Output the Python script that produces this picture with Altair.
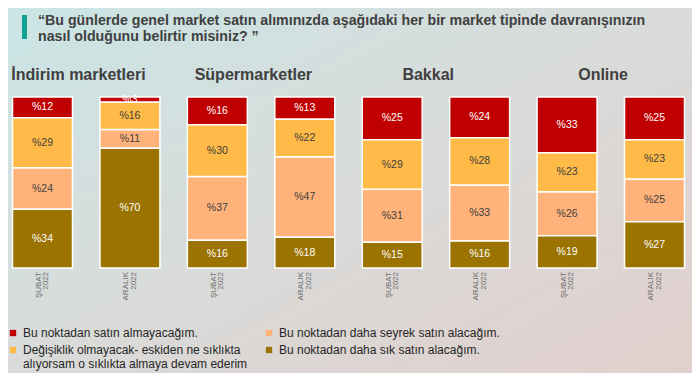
import altair as alt
import pandas as pd

FONT = "Liberation Sans, Arial, sans-serif"

groups = ["İndirim marketleri", "Süpermarketler", "Bakkal", "Online"]
periods = ["ŞUBAT 2022", "ARALIK 2022"]
period_line1 = ["ŞUBAT", "ARALIK"]
period_line2 = ["2022", "2022"]

cat_names = [
    "Bu noktadan satın almayacağım.",
    "Bu noktadan daha seyrek satın alacağım.",
    "Değişiklik olmayacak- eskiden ne sıklıkta~alıyorsam o sıklıkta almaya devam ederim",
    "Bu noktadan daha sık satın alacağım.",
]
cat_colors = ["#C00000", "#FFB27A", "#FFBA47", "#9A7300"]
stack_order = [3, 1, 2, 0]          # bottom (0) -> top (3)
text_colors = ["white", "#404040", "#404040", "white"]

# values per bar: İnd Ş, İnd A, Süp Ş, Süp A, Bak Ş, Bak A, Onl Ş, Onl A
almayacagim = [12, 3, 16, 13, 25, 24, 33, 25]
seyrek = [24, 11, 37, 47, 31, 33, 26, 25]
degisiklik = [29, 16, 30, 22, 29, 28, 23, 23]
daha_sik = [34, 70, 16, 18, 15, 16, 19, 27]
series = [almayacagim, seyrek, degisiklik, daha_sik]

title_lines = [
    "“Bu günlerde genel market satın alımınızda aşağıdaki her bir market tipinde davranışınızın",
    "nasıl olduğunu belirtir misiniz? ”",
]

bar_ids = [f"{g}|{p}" for g in groups for p in periods]

rows = []
for ci, vals in enumerate(series):
    for bi, v in enumerate(vals):
        rows.append({
            "bar": bar_ids[bi],
            "cat": cat_names[ci],
            "value": v,
            "order": stack_order[ci],
            "label": f"%{v}",
            "tcolor": text_colors[ci],
        })
df = pd.DataFrame(rows)

gdf = pd.DataFrame({"bar": [f"{g}|{periods[0]}" for g in groups], "group": groups})
pdf = pd.DataFrame({
    "bar": bar_ids,
    "l1": [period_line1[i % 2] for i in range(len(bar_ids))],
    "l2": [period_line2[i % 2] for i in range(len(bar_ids))],
})

x_enc = alt.X(
    "bar:N",
    sort=bar_ids,
    scale=alt.Scale(paddingInner=0.314, paddingOuter=0.0515),
    axis=None,
)
y_scale = alt.Scale(domain=[0, 1])

base = alt.Chart(df).transform_stack(
    stack="value",
    groupby=["bar"],
    sort=[alt.SortField("order", order="ascending")],
    as_=["y0", "y1"],
    offset="normalize",
).transform_calculate(mid="(datum.y0 + datum.y1) / 2")

bars = base.mark_bar(stroke="white", strokeWidth=1.5).encode(
    x=x_enc,
    y=alt.Y("y0:Q", scale=y_scale, axis=None),
    y2="y1:Q",
    color=alt.Color(
        "cat:N",
        scale=alt.Scale(domain=cat_names, range=cat_colors),
        legend=alt.Legend(
            title=None,
            orient="none",
            legendX=-1,
            legendY=230,
            direction="horizontal",
            columns=2,
            columnPadding=15,
            rowPadding=5,
            symbolType="square",
            symbolSize=40,
            symbolStrokeWidth=0,
            labelFont=FONT,
            labelFontSize=12,
            labelColor="#262626",
            labelLimit=400,
            labelOffset=4,
            labelExpr="split(datum.label, '~')",
        ),
    ),
)

labels = base.mark_text(font=FONT, fontSize=10.5).encode(
    x=alt.X("bar:N", sort=bar_ids, axis=None),
    y=alt.Y("mid:Q", scale=y_scale, axis=None),
    text="label:N",
    color=alt.Color("tcolor:N", scale=None),
)

period_a = alt.Chart(pdf).mark_text(
    font=FONT, fontSize=8, color="#6b6b6b", angle=270, align="right", baseline="middle", dy=-3.5
).encode(x=alt.X("bar:N", sort=bar_ids, axis=None), y=alt.value(175), text="l1:N")

period_b = alt.Chart(pdf).mark_text(
    font=FONT, fontSize=8, color="#6b6b6b", angle=270, align="right", baseline="middle", dy=4
).encode(x=alt.X("bar:N", sort=bar_ids, axis=None), y=alt.value(175), text="l2:N")

group_titles = alt.Chart(gdf).mark_text(
    font=FONT, fontSize=16, fontWeight="bold", color="#404040", dx=36, baseline="alphabetic"
).encode(
    x=alt.X("bar:N", sort=bar_ids, axis=None),
    y=alt.value(-17),
    text="group:N",
)

one = pd.DataFrame({"k": [0]})
background = alt.Chart(one).mark_rect(
    color=alt.LinearGradient(
        gradient="linear",
        stops=[
            alt.GradientStop(color="#CAE5E5", offset=0),
            alt.GradientStop(color="#D9DBD9", offset=0.5),
            alt.GradientStop(color="#E1CFCD", offset=1),
        ],
        x1=0, y1=0, x2=1, y2=1,
    )
).encode(x=alt.value(0), x2=alt.value(684), y=alt.value(-89), y2=alt.value(276))

accent = alt.Chart(one).mark_rect(color="#11A091").encode(
    x=alt.value(14), x2=alt.value(19), y=alt.value(-82), y2=alt.value(-58)
)

main_title = alt.Chart(one).mark_text(
    text=title_lines,
    align="left",
    baseline="alphabetic",
    font=FONT,
    fontSize=14.2,
    fontWeight="bold",
    color="#404040",
    lineHeight=16,
).encode(x=alt.value(30), y=alt.value(-72))

chart = alt.layer(
    background, accent, main_title, group_titles, bars, labels, period_a, period_b
).properties(
    width=681,
    height=171,
    autosize=alt.AutoSizeParams(type="none"),
    padding={"left": 0, "top": 89, "right": 3, "bottom": 105},
).configure_view(stroke=None).configure(background="white")

chart.save("out.html", embed_options={"renderer": "svg", "actions": False})
